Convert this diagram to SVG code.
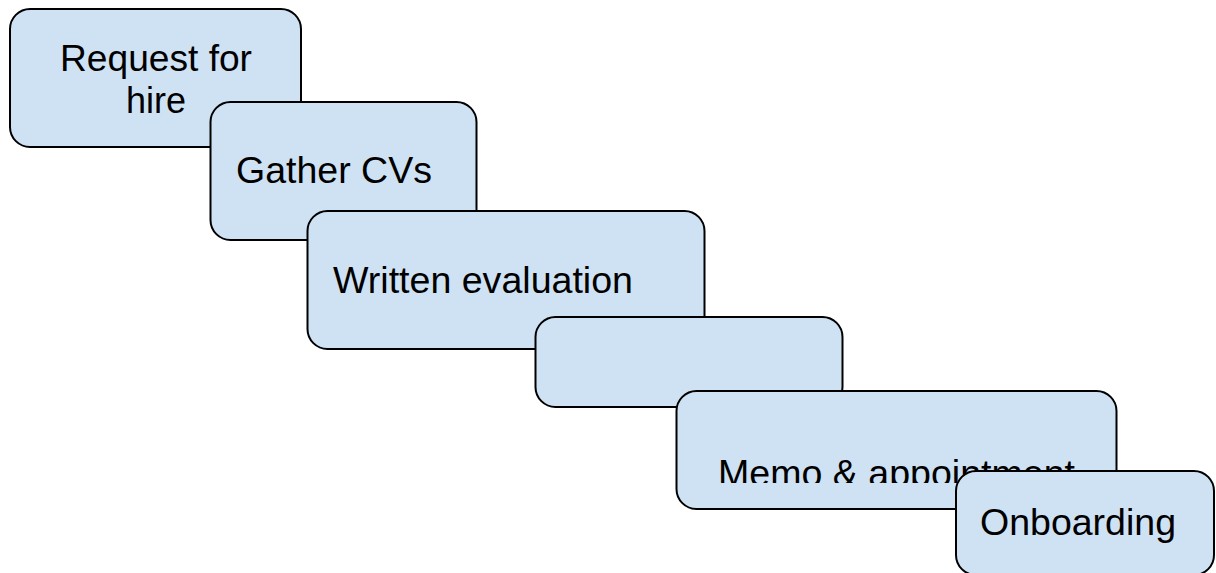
<svg xmlns="http://www.w3.org/2000/svg" width="1216" height="573" viewBox="0 0 1216 573">
  <style>
    .box { fill: #cfe2f3; stroke: #000000; stroke-width: 2; }
    .lbl { font-family: "Liberation Sans", Arial, sans-serif; font-size: 36px; fill: #000000; }
  </style>
  <defs>
    <!-- the memo caption is cut off along its baseline -->
    <clipPath id="memoClip">
      <rect x="676" y="391" width="440" height="92"/>
    </clipPath>
  </defs>
  <rect width="1216" height="573" fill="#ffffff"/>

  <g id="step-request">
    <rect class="box" x="10" y="9" width="291" height="138" rx="20" ry="20"/>
    <text class="lbl" x="156" y="71" text-anchor="middle" textLength="192" lengthAdjust="spacingAndGlyphs">Request for</text>
    <text class="lbl" x="156" y="113" text-anchor="middle">hire</text>
  </g>

  <g id="step-gather">
    <rect class="box" x="210.5" y="102" width="266" height="138" rx="20" ry="20"/>
    <text class="lbl" x="236" y="183" textLength="196" lengthAdjust="spacingAndGlyphs">Gather CVs</text>
  </g>

  <g id="step-written">
    <rect class="box" x="307.5" y="211" width="397" height="138" rx="20" ry="20"/>
    <text class="lbl" x="333" y="293" textLength="300" lengthAdjust="spacingAndGlyphs">Written evaluation</text>
  </g>

  <g id="step-blank">
    <rect class="box" x="535.5" y="317" width="307" height="90" rx="20" ry="20"/>
  </g>

  <g id="step-memo">
    <rect class="box" x="676.5" y="391" width="440" height="118" rx="20" ry="20"/>
    <text class="lbl" x="718" y="486" textLength="357" lengthAdjust="spacingAndGlyphs" clip-path="url(#memoClip)">Memo &amp; appointment</text>
  </g>

  <g id="step-onboarding">
    <rect class="box" x="956" y="471" width="258" height="104" rx="20" ry="20"/>
    <text class="lbl" x="980" y="535" textLength="196" lengthAdjust="spacingAndGlyphs">Onboarding</text>
  </g>

  <g id="connectors"/>
</svg>
